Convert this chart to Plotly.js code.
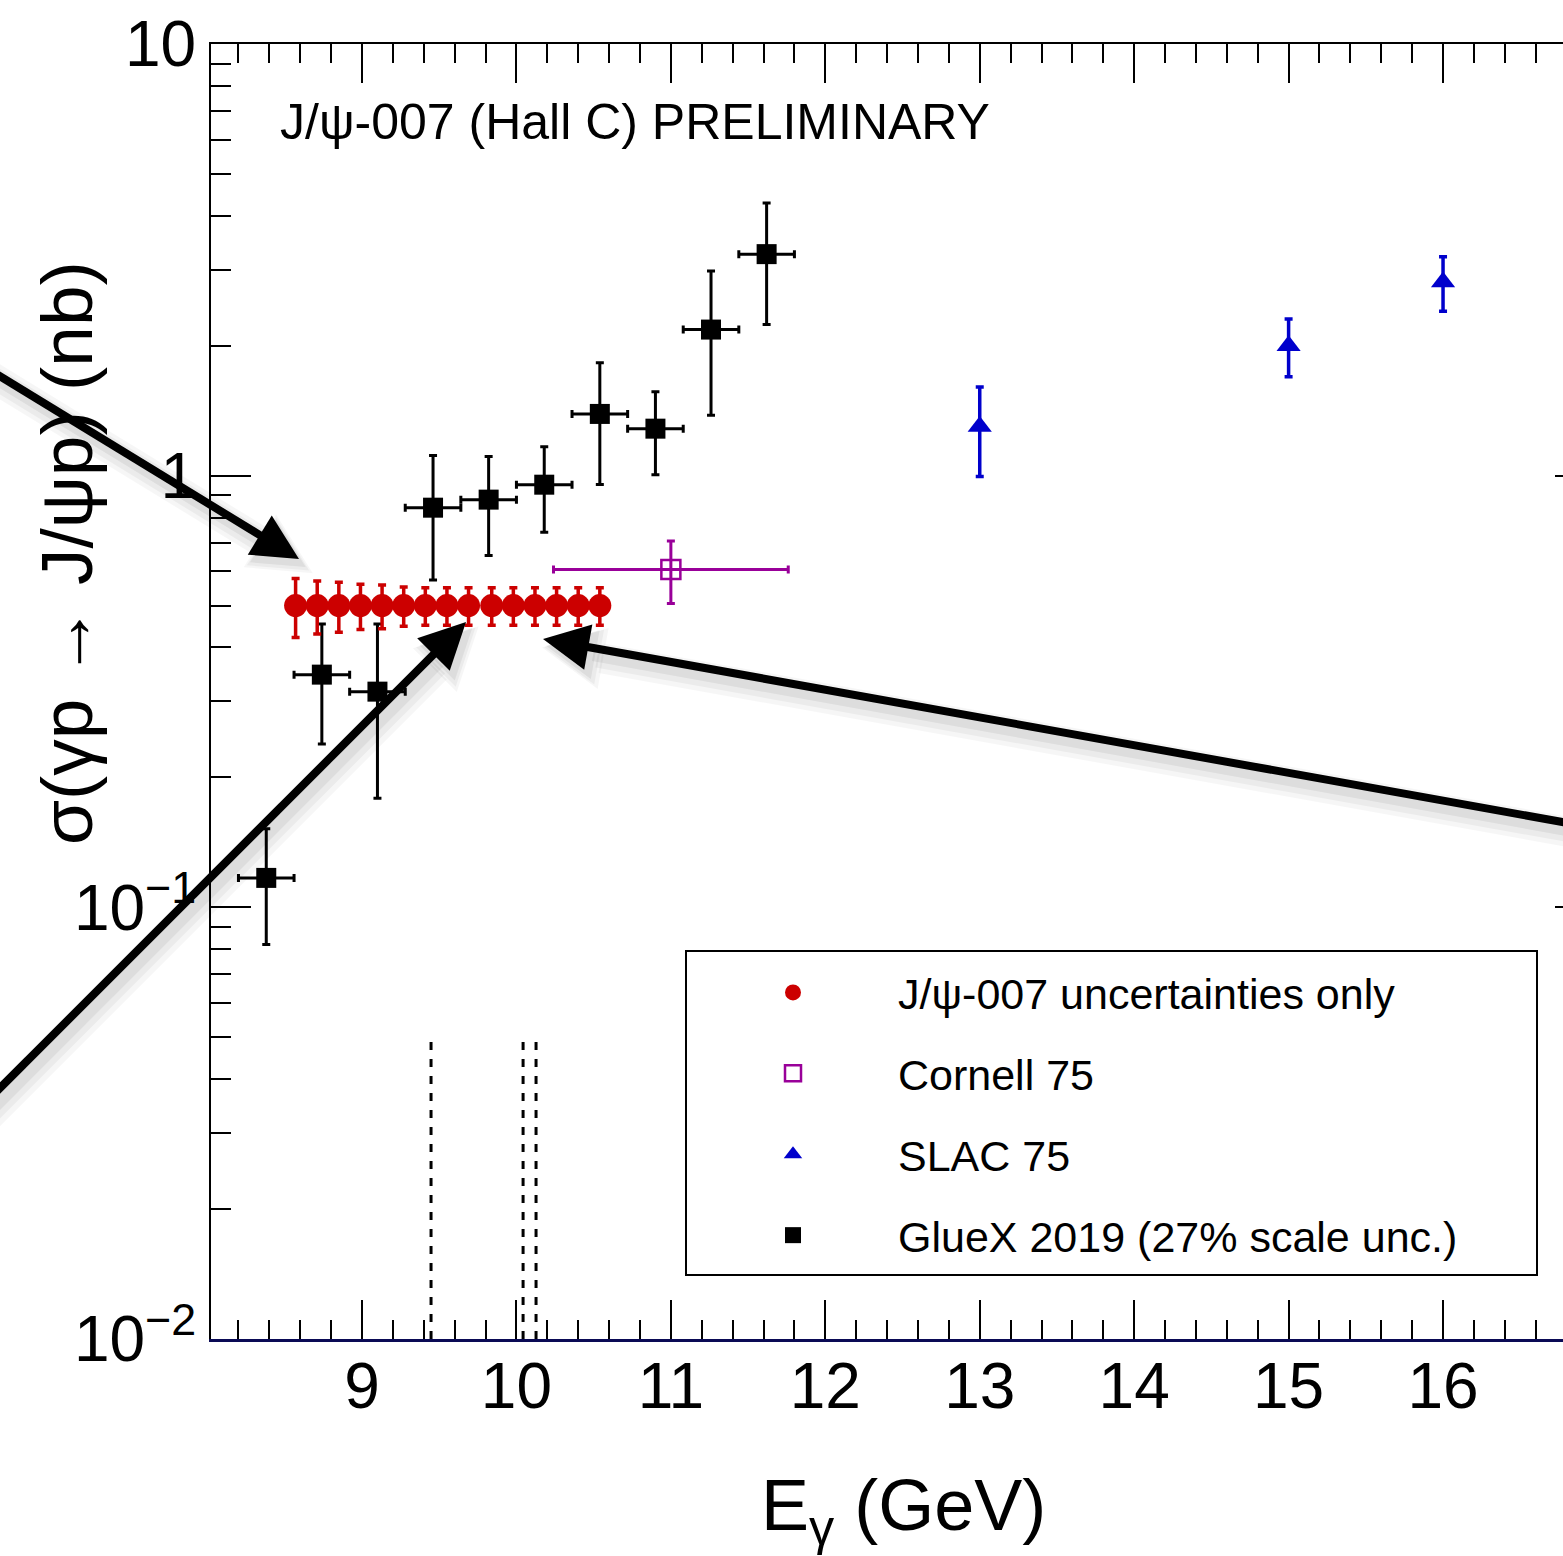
<!DOCTYPE html>
<html>
<head>
<meta charset="utf-8">
<script src="https://cdn.plot.ly/plotly-3.0.1.min.js"></script>
<style>
html, body { margin: 0; padding: 0; overflow: hidden; background: #fff; }
#chart { width: 1600px; height: 1556px; }
</style>
</head>
<body>
<div id="chart"></div>
<script>
// ---------------- data ----------------
// J/psi-007 projected points (uncertainties only)
var jpsiE    = [8.57, 8.71, 8.85, 8.99, 9.13, 9.27, 9.41, 9.55, 9.69, 9.84, 9.98, 10.12, 10.26, 10.40, 10.54];
var jpsiSig  = [0.5, 0.5, 0.5, 0.5, 0.5, 0.5, 0.5, 0.5, 0.5, 0.5, 0.5, 0.5, 0.5, 0.5, 0.5];
var jpsiErr  = [0.078, 0.070, 0.066, 0.060, 0.058, 0.052, 0.050, 0.050, 0.050, 0.050, 0.050, 0.050, 0.050, 0.050, 0.050];

// Cornell 75
var cornellE    = [11.0];
var cornellSig  = [0.606];
var cornellErrY = [0.10];
var cornellErrX = [0.76];

// SLAC 75
var slacE   = [13.0, 15.0, 16.0];
var slacSig = [1.30, 2.00, 2.81];
var slacErr = [0.305, 0.305, 0.405];

// GlueX 2019
var gluexE    = [8.38, 8.74, 9.10, 9.46, 9.82, 10.18, 10.54, 10.90, 11.26, 11.62];
var gluexSig  = [0.117, 0.346, 0.316, 0.843, 0.88, 0.953, 1.39, 1.285, 2.18, 3.26];
var gluexErrY = [0.035, 0.107, 0.137, 0.27, 0.227, 0.214, 0.436, 0.28, 0.80, 1.02];
var gluexErrX = [0.18, 0.18, 0.18, 0.18, 0.18, 0.18, 0.18, 0.18, 0.18, 0.18];

// threshold (dashed) markers
var threshE   = [9.447, 10.043, 10.127];
var threshLow = 0.01;
var threshTop = 0.05;

// axis ticks
var yTickVals = [0.01, 0.1, 1, 10];
var yTickText = ['10<sup>\u22122</sup>', '10<sup>\u22121</sup>', '1', '10'];

// legend / labels
var legendNames = ['J/\u03c8-007 uncertainties only', 'Cornell 75', 'SLAC 75', 'GlueX 2019 (27% scale unc.)'];

// ---------------- build ----------------
var FONT = 'Liberation Sans, Arial, Helvetica, sans-serif';
var PL = 211, PR = 1595, PT = 44, PB = 1339;
var PW = PR - PL, PH = PB - PT;
function px(x) { return (x - PL) / PW; }
function py(y) { return (PB - y) / PH; }

var traces = [];

threshE.forEach(function (e) {
  traces.push({
    type: 'scatter', mode: 'lines', x: [e, e], y: [threshLow, threshTop],
    line: { color: '#000', width: 3, dash: '8px,9px' },
    showlegend: false, hoverinfo: 'skip'
  });
});

traces.push({
  type: 'scatter', mode: 'markers', name: legendNames[3], legendrank: 4, legendgroup: 'g4',
  x: gluexE, y: gluexSig,
  marker: { symbol: 'square', size: 20, color: '#000' },
  error_y: { type: 'data', array: gluexErrY, color: '#000', thickness: 3, width: 4 },
  error_x: { type: 'data', array: gluexErrX, color: '#000', thickness: 3, width: 4 }
});

traces.push({
  type: 'scatter', mode: 'markers', name: legendNames[1], legendrank: 2, legendgroup: 'g2',
  x: cornellE, y: cornellSig,
  marker: { symbol: 'square-open', size: 19, color: '#990099', line: { width: 2.5, color: '#990099' } },
  error_y: { type: 'data', array: cornellErrY, color: '#990099', thickness: 3, width: 4 },
  error_x: { type: 'data', array: cornellErrX, color: '#990099', thickness: 3, width: 4 }
});

traces.push({
  type: 'scatter', mode: 'markers', name: legendNames[2], legendrank: 3, legendgroup: 'g3',
  x: slacE, y: slacSig,
  marker: { symbol: 'triangle-up', size: 21, color: '#0000cc' },
  error_y: { type: 'data', array: slacErr, color: '#0000cc', thickness: 3.5, width: 4 }
});

traces.push({
  type: 'scatter', mode: 'markers', name: legendNames[0], legendrank: 1, legendgroup: 'g1',
  x: jpsiE, y: jpsiSig,
  marker: { symbol: 'circle', size: 23, color: '#cc0000' },
  error_y: { type: 'data', array: jpsiErr, color: '#cc0000', thickness: 3.5, width: 4 }
});

var minorY = [];
[0.01, 0.1, 1].forEach(function (d) {
  for (var k = 2; k <= 9; k++) minorY.push(+(k * d).toPrecision(3));
});

// ---- arrows (annotation graphics, drawn as paper shapes) ----
var arrowsDef = [
  // head tip (px), tail (px)
  [299, 559, -20, 364],
  [466, 622, -30, 1118],
  [543, 639, 1640, 836]
];
var HEAD_LEN = 46, HEAD_HALF = 23, LINE_W = 8;
var shapes = [];
function arrowShapes(a, dx, dy, color, lw, grow, list) {
  var hx = a[0] + dx, hy = a[1] + dy, tx = a[2] + dx, ty = a[3] + dy;
  var vx = tx - hx, vy = ty - hy, L = Math.sqrt(vx * vx + vy * vy);
  var ux = vx / L, uy = vy / L, nx = -uy, ny = ux;
  var hl = HEAD_LEN + grow, hh = HEAD_HALF + grow;
  var bx = hx + ux * hl, by = hy + uy * hl;
  list.push({
    type: 'line', xref: 'paper', yref: 'paper', layer: 'above',
    x0: px(bx - ux * 2), y0: py(by - uy * 2), x1: px(tx), y1: py(ty),
    line: { color: color, width: lw }
  });
  var p1x = hx - ux * grow, p1y = hy - uy * grow;
  var path = 'M' + px(p1x) + ',' + py(p1y) +
    ' L' + px(bx + nx * hh) + ',' + py(by + ny * hh) +
    ' L' + px(bx - nx * hh) + ',' + py(by - ny * hh) + ' Z';
  list.push({
    type: 'path', xref: 'paper', yref: 'paper', layer: 'above', path: path,
    fillcolor: color, line: { width: 0 }
  });
}
arrowsDef.forEach(function (a) {
  arrowShapes(a, 7, 10, 'rgba(0,0,0,0.035)', 30, 8, shapes);
  arrowShapes(a, 6, 9, 'rgba(0,0,0,0.045)', 22, 5, shapes);
  arrowShapes(a, 5, 7, 'rgba(0,0,0,0.06)', 14, 2, shapes);
});
arrowsDef.forEach(function (a) {
  arrowShapes(a, 0, 0, '#000', LINE_W, 0, shapes);
});

// legend frame
shapes.unshift({
  type: 'rect', xref: 'paper', yref: 'paper', layer: 'above',
  x0: px(686), x1: px(1537), y0: py(1275), y1: py(951),
  line: { color: '#000', width: 2 }, fillcolor: 'rgba(255,255,255,1)'
});

var annotations = [
  {
    xref: 'paper', yref: 'paper', x: px(278), y: py(122), xanchor: 'left', yanchor: 'middle',
    text: 'J/\u03c8-007 (Hall C) PRELIMINARY', showarrow: false,
    font: { family: FONT, size: 50, color: '#000' }
  },
  {
    xref: 'paper', yref: 'paper', x: px(903), y: py(1510), xanchor: 'center', yanchor: 'middle',
    text: 'E<sub>\u03b3</sub> (GeV)', showarrow: false,
    font: { family: FONT, size: 72, color: '#000' }
  },
  {
    xref: 'paper', yref: 'paper', x: px(66), y: py(553), xanchor: 'center', yanchor: 'middle',
    text: '\u03c3(\u03b3p \u2192 J/\u03c8p) (nb)', textangle: -90, showarrow: false,
    font: { family: FONT, size: 73, color: '#000' }
  }
];

var layout = {
  width: 1600, height: 1556,
  margin: { l: PL, r: 1600 - PR, t: PT, b: 1556 - PB, pad: 0 },
  paper_bgcolor: '#fff', plot_bgcolor: '#fff',
  font: { family: FONT, color: '#000' },
  xaxis: {
    type: 'linear', range: [8.0222, 16.984], tickmode: 'linear', tick0: 0, dtick: 1,
    showgrid: false, zeroline: false, showline: true, linecolor: '#0a0a55', linewidth: 3,
    ticks: 'inside', ticklen: 39, tickwidth: 2, tickcolor: '#000',
    minor: { tickmode: 'linear', tick0: 8, dtick: 0.2, ticks: 'inside', ticklen: 19, tickwidth: 2, tickcolor: '#000', showgrid: false },
    tickfont: { family: FONT, size: 64, color: '#000' }, ticklabelstandoff: -11
  },
  xaxis2: {
    overlaying: 'x', matches: 'x', side: 'top', type: 'linear', range: [8.0222, 16.984],
    tickmode: 'linear', tick0: 0, dtick: 1, showticklabels: false,
    showgrid: false, zeroline: false, showline: true, linecolor: '#000', linewidth: 2,
    ticks: 'inside', ticklen: 39, tickwidth: 2, tickcolor: '#000',
    minor: { tickmode: 'linear', tick0: 8, dtick: 0.2, ticks: 'inside', ticklen: 19, tickwidth: 2, tickcolor: '#000', showgrid: false }
  },
  yaxis: {
    type: 'log', range: [-2, 1], tickmode: 'array', tickvals: yTickVals, ticktext: yTickText,
    showgrid: false, zeroline: false, showline: true, linecolor: '#000', linewidth: 2, mirror: 'ticks',
    ticks: 'inside', ticklen: 40, tickwidth: 2, tickcolor: '#000',
    minor: { tickmode: 'array', tickvals: minorY, ticks: 'inside', ticklen: 20, tickwidth: 2, tickcolor: '#000', showgrid: false },
    tickfont: { family: FONT, size: 64, color: '#000' }, ticklabelstandoff: 0
  },
  showlegend: true,
  legend: {
    x: px(688), y: py(958), xanchor: 'left', yanchor: 'top',
    bgcolor: 'rgba(0,0,0,0)', borderwidth: 0,
    font: { family: FONT, size: 43, color: '#000' },
    itemwidth: 200, traceorder: 'grouped', tracegroupgap: 22, itemclick: false
  },
  shapes: shapes,
  annotations: annotations
};

// dummy trace to activate xaxis2 (top frame with ticks)
traces.unshift({ type: 'scatter', x: [], y: [], xaxis: 'x2', yaxis: 'y', showlegend: false, hoverinfo: 'skip' });

Plotly.newPlot('chart', traces, layout, { displayModeBar: false, staticPlot: true });
</script>
</body>
</html>
